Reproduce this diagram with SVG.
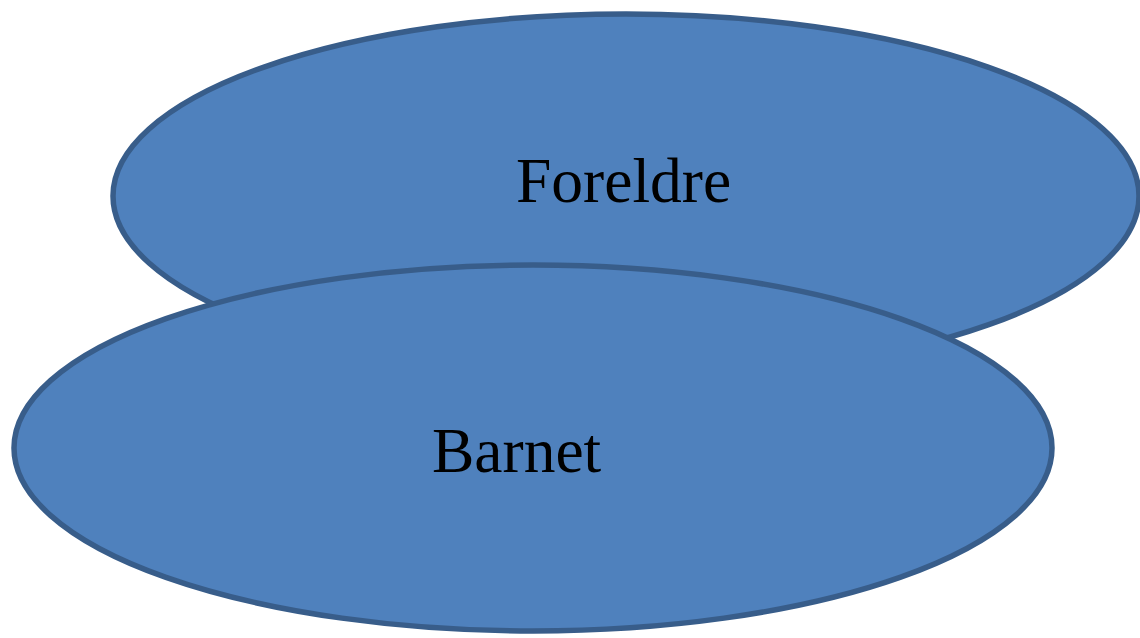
<svg xmlns="http://www.w3.org/2000/svg" width="1140" height="638" viewBox="0 0 1140 638">
  <style>
    .node { fill: #4F81BD; stroke: #385D8A; stroke-width: 5.5; }
    .label { font-family: "Liberation Serif", "Times New Roman", serif; font-size: 63.5px; fill: #000000; }
  </style>
  <rect x="0" y="0" width="1140" height="638" fill="#FFFFFF"/>
  <g id="connectors"></g>
  <g id="foreldre">
    <ellipse class="node" cx="626" cy="196" rx="513" ry="182"/>
    <text class="label" x="516" y="202">Foreldre</text>
  </g>
  <g id="barnet">
    <ellipse class="node" cx="533" cy="448" rx="519" ry="183"/>
    <text class="label" x="432" y="472">Barnet</text>
  </g>
</svg>
